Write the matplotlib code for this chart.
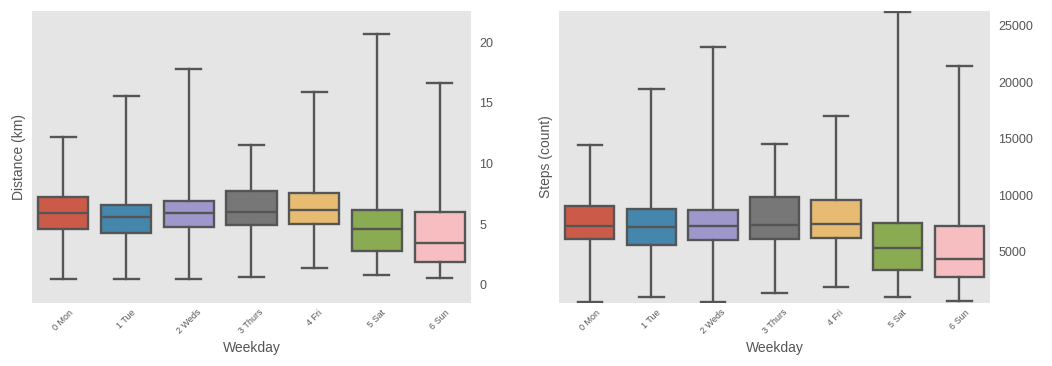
import colorsys
import matplotlib
matplotlib.use("Agg")
import matplotlib.pyplot as plt
import matplotlib.colors as mcolors

# weekday categories
days = ["0 Mon", "1 Tue", "2 Weds", "3 Thurs", "4 Fri", "5 Sat", "6 Sun"]

# distance (km) box stats
dist_low = [0.47, 0.47, 0.52, 0.63, 1.35, 0.82, 0.60]
dist_q1 = [4.6, 4.3, 4.8, 4.9, 5.0, 2.8, 1.87]
dist_med = [5.9, 5.6, 5.9, 6.0, 6.2, 4.6, 3.46]
dist_q3 = [7.2, 6.6, 6.9, 7.7, 7.6, 6.2, 6.0]
dist_high = [12.2, 15.6, 17.8, 11.5, 15.9, 20.7, 16.65]

# steps (count) box stats
steps_low = [570, 990, 570, 1370, 1850, 960, 660]
steps_q1 = [6100, 5590, 6040, 6150, 6240, 3380, 2730]
steps_med = [7280, 7160, 7280, 7390, 7430, 5300, 4330]
steps_q3 = [9050, 8760, 8670, 9820, 9560, 7570, 7300]
steps_high = [14480, 19390, 23110, 14570, 17030, 26210, 21480]

palette = ["#E24A33", "#348ABD", "#988ED5", "#777777", "#FBC15E", "#8EBA42", "#FFB5B8"]


def desat(c, prop=0.75):
    r, g, b = mcolors.to_rgb(c)
    h, l, s = colorsys.rgb_to_hls(r, g, b)
    return colorsys.hls_to_rgb(h, l, s * prop)


plt.rcParams['font.family'] = ['Liberation Sans', 'DejaVu Sans']

fig = plt.figure(figsize=(10.52, 3.66), dpi=100)
ax1 = fig.add_axes([0.0304, 0.172, 0.4173, 0.799])
ax2 = fig.add_axes([0.5314, 0.172, 0.4097, 0.799])

line_col = "#555555"


def draw(ax, low, q1, med, q3, high, ylabel, ylim, yticks):
    stats = []
    for i in range(len(days)):
        stats.append(dict(whislo=low[i], q1=q1[i], med=med[i], q3=q3[i],
                          whishi=high[i], fliers=[], label=days[i]))
    bp = ax.bxp(stats, positions=range(len(days)), widths=0.8, patch_artist=True,
                showfliers=False, capwidths=0.4,
                boxprops=dict(edgecolor=line_col, linewidth=1.7),
                medianprops=dict(color=line_col, linewidth=1.7),
                whiskerprops=dict(color=line_col, linewidth=1.7),
                capprops=dict(color=line_col, linewidth=1.7))
    for patch, c in zip(bp['boxes'], palette):
        patch.set_facecolor(desat(c))
    ax.set_facecolor("#E5E5E5")
    for s in ax.spines.values():
        s.set_visible(False)
    ax.set_xlim(-0.5, len(days) - 0.5)
    ax.set_ylim(*ylim)
    ax.set_yticks(yticks)
    ax.yaxis.tick_right()
    ax.tick_params(axis='both', length=0, colors="#555555")
    ax.tick_params(axis='y', labelsize=9, pad=6)
    ax.set_xticks(range(len(days)))
    ax.set_xticklabels(days, rotation=45, fontsize=6.5)
    ax.set_xlabel("Weekday", fontsize=10, color="#555555")
    ax.set_ylabel(ylabel, fontsize=10, color="#555555")


draw(ax1, dist_low, dist_q1, dist_med, dist_q3, dist_high,
     "Distance (km)", (-1.5, 22.6), [0, 5, 10, 15, 20])
draw(ax2, steps_low, steps_q1, steps_med, steps_q3, steps_high,
     "Steps (count)", (450, 26350), [5000, 10000, 15000, 20000, 25000])

fig.savefig("out.png", dpi=100)
